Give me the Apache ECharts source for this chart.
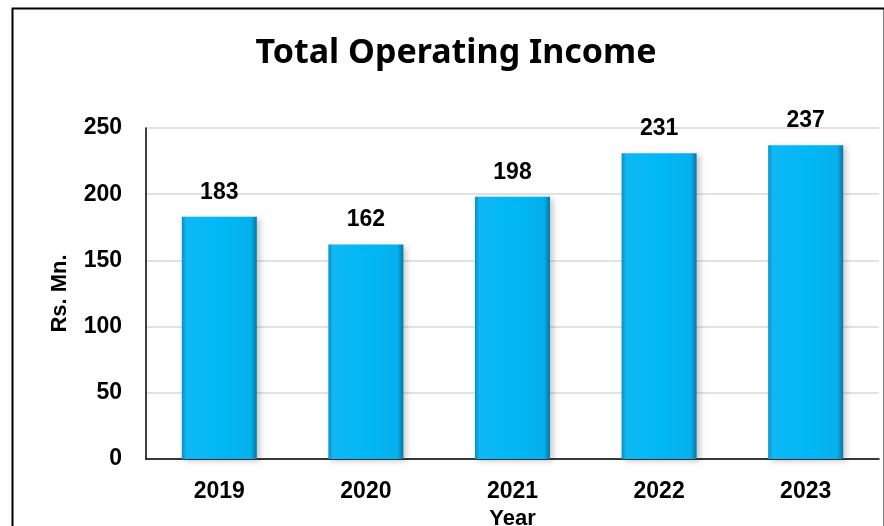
<!DOCTYPE html>
<html>
<head>
<meta charset="utf-8">
<script src="https://cdn.jsdelivr.net/npm/echarts@6/dist/echarts.min.js"></script>
<style>html,body{margin:0;padding:0;background:#fff}#c{width:884px;height:526px}</style>
</head>
<body>
<div id="c"></div>
<script>
var years = ['2019', '2020', '2021', '2022', '2023'];
var income = [183, 162, 198, 231, 237];
var yTicks = [0, 50, 100, 150, 200, 250];

var TFONT = '"Noto Sans", "Open Sans", sans-serif';
var FONT = '"Liberation Sans", Arial, sans-serif';
var chart = echarts.init(document.getElementById('c'));
chart.setOption({
  animation: false,
  backgroundColor: '#fff',
  title: {
    text: 'Total Operating Income',
    left: 451, top: 31, textAlign: 'center',
    textStyle: { fontFamily: TFONT, fontWeight: 'bold', fontSize: 34, color: '#000' }
  },
  graphic: [{
    type: 'rect', left: 10, top: 6,
    shape: { width: 872, height: 540 },
    style: { fill: 'none', stroke: '#000', lineWidth: 2 }
  }],
  grid: { left: 146, right: 5, top: 128, bottom: 67, containLabel: false, outerBoundsMode: 'none' },
  xAxis: {
    type: 'category', data: years,
    name: 'Year', nameLocation: 'middle', nameGap: 41,
    nameTextStyle: { fontFamily: FONT, fontWeight: 'bold', fontSize: 22, color: '#000' },
    axisLine: { lineStyle: { color: '#000', width: 1.5 } },
    axisTick: { show: false },
    axisLabel: { margin: 21, fontFamily: FONT, fontWeight: 'bold', fontSize: 23, color: '#000' }
  },
  yAxis: {
    type: 'value', min: yTicks[0], max: yTicks[yTicks.length - 1], interval: 50,
    name: 'Rs. Mn.', nameLocation: 'middle', nameGap: 75, nameRotate: 90,
    nameTextStyle: { fontFamily: FONT, fontWeight: 'bold', fontSize: 22, color: '#000' },
    axisLine: { show: true, lineStyle: { color: '#000', width: 1.5 } },
    axisTick: { show: false },
    splitLine: { lineStyle: { color: '#d9d9d9', width: 1.5 } },
    axisLabel: { margin: 24, fontFamily: FONT, fontWeight: 'bold', fontSize: 23, color: '#000' }
  },
  series: [{
    type: 'bar', data: income, barWidth: 75,
    itemStyle: {
      color: new echarts.graphic.LinearGradient(0, 0, 1, 0, [
        { offset: 0, color: '#0a8cc6' },
        { offset: 0.06, color: '#10b8f4' },
        { offset: 0.5, color: '#00b8f6' },
        { offset: 0.92, color: '#06b0ec' },
        { offset: 1, color: '#0676a6' }
      ]),
      shadowColor: 'rgba(0,0,0,0.22)', shadowBlur: 6, shadowOffsetX: 3, shadowOffsetY: 2
    },
    label: {
      show: true, position: 'top', distance: 13,
      fontFamily: FONT, fontWeight: 'bold', fontSize: 23, color: '#000'
    }
  }]
});
</script>
</body>
</html>
